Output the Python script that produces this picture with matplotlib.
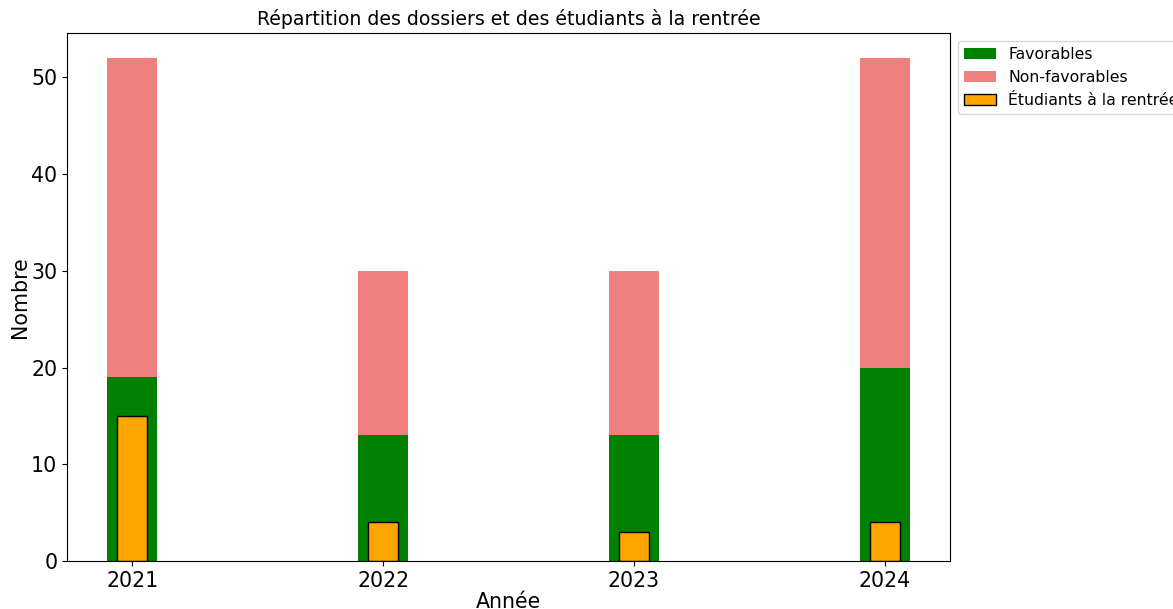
import matplotlib
matplotlib.use("Agg")
import matplotlib.pyplot as plt
import numpy as np

annees = ["2021", "2022", "2023", "2024"]
favorables = [19, 13, 13, 20]
non_favorables = [33, 17, 17, 32]
etudiants = [15, 4, 3, 4]

x = np.arange(len(annees))

fig = plt.figure(figsize=(11.73, 6.09), dpi=100)
ax = fig.add_axes([67 / 1173, 1 - 561 / 609, (950 - 67) / 1173, (561 - 33) / 609])

ax.bar(x, favorables, width=0.2, color="green", label="Favorables")
ax.bar(x, non_favorables, width=0.2, bottom=favorables, color="lightcoral",
       label="Non-favorables")
ax.bar(x, etudiants, width=0.12, color="orange", edgecolor="black",
       linewidth=1, label="Étudiants à la rentrée")

ax.set_xticks(x)
ax.set_xticklabels(annees)
ax.tick_params(axis="both", labelsize=14.8)
ax.set_xlabel("Année", fontsize=14.8, labelpad=1)
ax.set_ylabel("Nombre", fontsize=14.8, labelpad=1)
ax.set_title("Répartition des dossiers et des étudiants à la rentrée", fontsize=13.6)
ax.legend(loc="upper left", bbox_to_anchor=(1, 1), fontsize=11.3)

fig.savefig("out.png", dpi=100)
